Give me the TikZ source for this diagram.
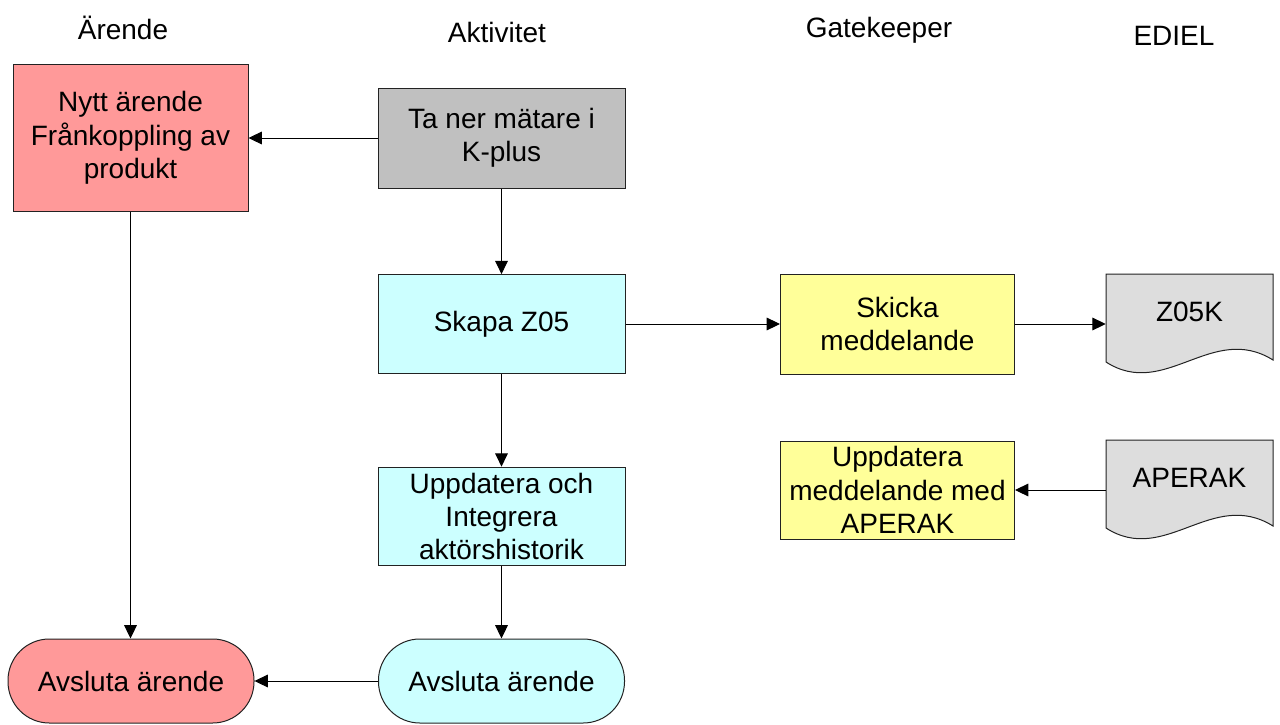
\documentclass[tikz,border=0pt]{standalone}
\usepackage{fontspec}
\setmainfont{Liberation Sans}
\usetikzlibrary{arrows.meta}
\definecolor{pinkf}{HTML}{FF9999}
\definecolor{grayf}{HTML}{C0C0C0}
\definecolor{cyanf}{HTML}{CCFFFF}
\definecolor{yellowf}{HTML}{FFFF99}
\definecolor{docf}{HTML}{DDDDDD}
\definecolor{edge}{HTML}{222222}
\begin{document}
\begin{tikzpicture}[x=0.75pt,y=-0.75pt,
  every node/.style={font=\fontsize{21}{25}\selectfont, inner sep=0pt, align=center},
  proc/.style={draw=edge, line width=0.75pt, rectangle, minimum width=#1},
  endbox/.style={draw=edge, line width=0.75pt, rectangle, rounded corners=31pt, minimum width=184.5pt, minimum height=63pt},
  doctext/.style={rectangle, minimum width=125.25pt},
  docshape/.style={draw=edge, line width=0.75pt, fill=docf},
  head/.style={},
  conn/.style={draw=black, line width=0.75pt, -{Triangle[length=10pt,width=9.5pt]}}
]
\useasboundingbox (0,0) rectangle (1280,724);

% headers
\node[head] (h1) at (123,28) {Ärende};
\node[head] (h2) at (497,32) {Aktivitet};
\node[head] (h3) at (879,30) {Gatekeeper};
\node[head] (h4) at (1174,36) {EDIEL};

% boxes
\node[proc=176.25pt, minimum height=109.5pt, fill=pinkf] (nytt) at (130.5,138) {Nytt ärende\\Frånkoppling av\\produkt};
\node[proc=185.25pt, minimum height=75pt, fill=grayf] (tanar) at (501.5,138) {Ta ner mätare i\\K-plus};
\node[proc=185.25pt, minimum height=74pt, fill=cyanf] (skapa) at (501.5,324) {Skapa Z05};
\node[proc=185.25pt, minimum height=74pt, fill=cyanf] (uppdint) at (501.5,516.5) {Uppdatera och\\Integrera\\aktörshistorik};
\node[endbox, fill=cyanf] (avc) at (501.5,681) {Avsluta ärende};
\node[endbox, fill=pinkf] (avp) at (131,681) {Avsluta ärende};
\node[proc=175.5pt, minimum height=75pt, fill=yellowf] (skicka) at (897.5,324) {Skicka\\meddelande};
\node[proc=175.5pt, minimum height=73.5pt, fill=yellowf] (uppdmed) at (897.5,490) {Uppdatera\\meddelande med\\APERAK};

% documents
\path[docshape] (1106,274) -- (1273,274) -- (1273,360)
  .. controls (1212,322) and (1165,400) .. (1106,362) -- cycle;
\node[doctext] (z05k) at (1189.5,312) {Z05K};
\path[docshape] (1106,440) -- (1273,440) -- (1273,526)
  .. controls (1212,488) and (1165,566) .. (1106,528) -- cycle;
\node[doctext] (aperak) at (1189.5,478) {APERAK};

% connectors
\draw[conn] (tanar) -- (nytt);
\draw[conn] (tanar) -- (skapa);
\draw[conn] (skapa.east) -- (skapa.east -| skicka.west);
\draw[conn] (skicka.east) -- (skicka.east -| z05k.west);
\draw[conn] (aperak.west |- uppdmed.east) -- (uppdmed.east);
\draw[conn] (skapa) -- (uppdint);
\draw[conn] (uppdint) -- (avc);
\draw[conn] (nytt) -- (nytt.south |- avp.north);
\draw[conn] (avc) -- (avp);
\end{tikzpicture}
\end{document}
